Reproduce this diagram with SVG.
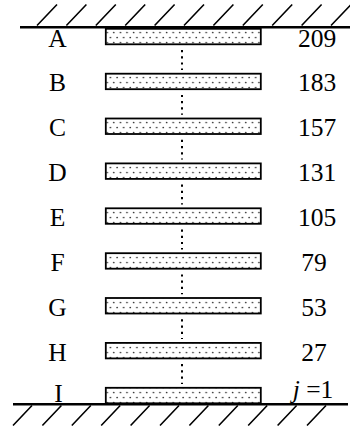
<svg xmlns="http://www.w3.org/2000/svg" width="350" height="430" viewBox="0 0 350 430">
  <style>
    .ground { stroke: #000; stroke-width: 2.6; fill: none; }
    .hatch { stroke: #000; stroke-width: 1.6; fill: none; }
    .bar { fill: url(#dots); stroke: #000; stroke-width: 1.8; }
    .link { stroke: #000; stroke-width: 2; stroke-dasharray: 2.2 4; fill: none; }
    .lbl { font-family: "Liberation Serif", "Times New Roman", serif; font-size: 25.5px; fill: #000; text-anchor: middle; }
  </style>
  <defs>
    <pattern id="dots" patternUnits="userSpaceOnUse" width="6.6" height="10">
      <rect width="6.6" height="10" fill="#fff"/>
      <circle cx="1.6" cy="2.5" r="0.85" fill="#333"/>
      <circle cx="4.9" cy="7.5" r="0.85" fill="#333"/>
    </pattern>
  </defs>

  <!-- fixed ground at the top -->
  <g id="top-ground">
    <line class="ground" x1="20" y1="27.3" x2="350" y2="27.3"/>
    <path class="hatch" d="M37,25.5 l20,-21 M66.4,25.5 l20,-21 M95.8,25.5 l20,-21 M125.2,25.5 l20,-21 M154.6,25.5 l20,-21 M184,25.5 l20,-21 M213.4,25.5 l20,-21 M242.8,25.5 l20,-21 M272.2,25.5 l20,-21 M301.6,25.5 l20,-21 M331,25.5 l20,-21"/>
  </g>

  <!-- fixed ground at the bottom -->
  <g id="bottom-ground">
    <line class="ground" x1="13" y1="404.3" x2="348" y2="404.3"/>
    <path class="hatch" d="M13,425.5 l19,-20 M42.4,425.5 l19,-20 M71.8,425.5 l19,-20 M101.2,425.5 l19,-20 M130.6,425.5 l19,-20 M160,425.5 l19,-20 M189.4,425.5 l19,-20 M218.8,425.5 l19,-20 M248.2,425.5 l19,-20 M277.6,425.5 l19,-20 M307,425.5 l19,-20"/>
  </g>

  <!-- dotted links between neighbouring slabs -->
  <g id="connectors">
    <line class="link" x1="182" y1="50" x2="182" y2="70"/>
    <line class="link" x1="182" y1="94.9" x2="182" y2="114.8"/>
    <line class="link" x1="182" y1="139.8" x2="182" y2="159.6"/>
    <line class="link" x1="182" y1="184.6" x2="182" y2="204.5"/>
    <line class="link" x1="182" y1="229.5" x2="182" y2="249.4"/>
    <line class="link" x1="182" y1="274.4" x2="182" y2="294.3"/>
    <line class="link" x1="182" y1="319.3" x2="182" y2="339.1"/>
    <line class="link" x1="182" y1="364.1" x2="182" y2="384"/>
  </g>

  <!-- slabs -->
  <g id="slab-A">
    <rect class="bar" x="105.8" y="28.8" width="155" height="15.5"/>
    <text class="lbl" x="57.5" y="46.5">A</text>
    <text class="lbl" x="317" y="46.5">209</text>
  </g>
  <g id="slab-B">
    <rect class="bar" x="105.8" y="73.7" width="155" height="15.5"/>
    <text class="lbl" x="57.5" y="91.4">B</text>
    <text class="lbl" x="317" y="91.4">183</text>
  </g>
  <g id="slab-C">
    <rect class="bar" x="105.8" y="118.5" width="155" height="15.5"/>
    <text class="lbl" x="57.5" y="136.3">C</text>
    <text class="lbl" x="317" y="136.3">157</text>
  </g>
  <g id="slab-D">
    <rect class="bar" x="105.8" y="163.4" width="155" height="15.5"/>
    <text class="lbl" x="57.5" y="181.1">D</text>
    <text class="lbl" x="317" y="181.1">131</text>
  </g>
  <g id="slab-E">
    <rect class="bar" x="105.8" y="208.3" width="155" height="15.5"/>
    <text class="lbl" x="57.5" y="226">E</text>
    <text class="lbl" x="317" y="226">105</text>
  </g>
  <g id="slab-F">
    <rect class="bar" x="105.8" y="253.2" width="155" height="15.5"/>
    <text class="lbl" x="57.5" y="270.9">F</text>
    <text class="lbl" x="314" y="270.9">79</text>
  </g>
  <g id="slab-G">
    <rect class="bar" x="105.8" y="298" width="155" height="15.5"/>
    <text class="lbl" x="57.5" y="315.8">G</text>
    <text class="lbl" x="314" y="315.8">53</text>
  </g>
  <g id="slab-H">
    <rect class="bar" x="105.8" y="342.9" width="155" height="15.5"/>
    <text class="lbl" x="57.5" y="360.6">H</text>
    <text class="lbl" x="314" y="360.6">27</text>
  </g>
  <g id="slab-I">
    <rect class="bar" x="105.8" y="387.8" width="155" height="15.5"/>
    <text class="lbl" x="58.5" y="402">I</text>
    <text class="lbl" x="313" y="398"><tspan font-style="italic">j</tspan> =1</text>
  </g>
</svg>
